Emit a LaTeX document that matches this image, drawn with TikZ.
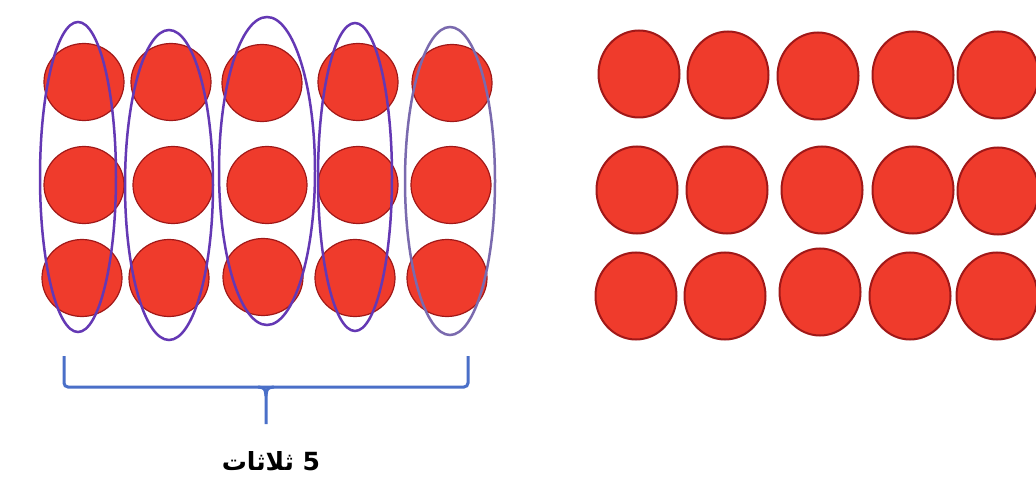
\documentclass[tikz,border=0pt]{standalone}
\usepackage{fontspec}
\usetikzlibrary{shapes.geometric}
\TeXXeTstate=1
\newfontfamily\arabicfont[Script=Arabic]{DejaVu Sans}
\definecolor{dotred}{HTML}{EF3B2C}
\definecolor{dotedge}{HTML}{A01818}
\definecolor{grouppurple}{HTML}{6438B4}
\definecolor{groupgray}{HTML}{7A6AAE}
\definecolor{braceblue}{HTML}{4A6FC8}
\tikzset{
  dotL/.style={ellipse, fill=dotred, draw=dotedge, line width=1.2pt, inner sep=0pt, minimum width=80pt, minimum height=77pt},
  dotR/.style={ellipse, fill=dotred, draw=dotedge, line width=2pt, inner sep=0pt, minimum width=81pt, minimum height=87pt},
  grp/.style={draw=grouppurple, line width=2.5pt},
  bracestyle/.style={draw=braceblue, line width=3pt, rounded corners=4pt},
}
\begin{document}
\begin{tikzpicture}[x=1pt,y=-1pt]
\useasboundingbox[fill=white] (0,0) rectangle (1036,481);
% left panel dots
\node[dotL] (l11) at (84,82) {};
\node[dotL] (l21) at (84,185) {};
\node[dotL] (l31) at (82,278) {};
\node[dotL] (l12) at (171,82) {};
\node[dotL] (l22) at (173,185) {};
\node[dotL] (l32) at (169,278) {};
\node[dotL] (l13) at (262,83) {};
\node[dotL] (l23) at (267,185) {};
\node[dotL] (l33) at (263,277) {};
\node[dotL] (l14) at (358,82) {};
\node[dotL] (l24) at (358,185) {};
\node[dotL] (l34) at (355,278) {};
\node[dotL] (l15) at (452,83) {};
\node[dotL] (l25) at (451,185) {};
\node[dotL] (l35) at (447,278) {};
% group ellipses
\draw[grp] (78,177) ellipse [x radius=38, y radius=155];
\draw[grp] (169,185) ellipse [x radius=44, y radius=155];
\draw[grp] (267,171) ellipse [x radius=48, y radius=154];
\draw[grp] (355,177) ellipse [x radius=37, y radius=154];
\draw[grp, draw=groupgray] (450,181) ellipse [x radius=45, y radius=154];
% brace
\coordinate (bl) at (64,356);
\coordinate (br) at (468,356);
\coordinate (bm) at (266,387);
\coordinate (bt) at (266,424);
\draw[bracestyle] (bl) |- (bm) -| (br);
\draw[draw=braceblue, line width=3pt] (258,387) .. controls (265,388) .. (266,396) -- (bt);
\draw[draw=braceblue, line width=3pt] (274,387) .. controls (267,388) .. (266,396);
\node[anchor=center] (lbl) at (271,461) {\fontsize{25}{29}\selectfont\arabicfont\bfseries\beginR 5 ثلاثات\endR};
% right panel dots
\node[dotR] (r11) at (639,74) {};
\node[dotR] (r12) at (728,75) {};
\node[dotR] (r13) at (818,76) {};
\node[dotR] (r14) at (913,75) {};
\node[dotR] (r15) at (998,75) {};
\node[dotR] (r21) at (637,190) {};
\node[dotR] (r22) at (727,190) {};
\node[dotR] (r23) at (822,190) {};
\node[dotR] (r24) at (913,190) {};
\node[dotR] (r25) at (998,191) {};
\node[dotR] (r31) at (636,296) {};
\node[dotR] (r32) at (725,296) {};
\node[dotR] (r33) at (820,292) {};
\node[dotR] (r34) at (910,296) {};
\node[dotR] (r35) at (997,296) {};
\end{tikzpicture}
\end{document}
